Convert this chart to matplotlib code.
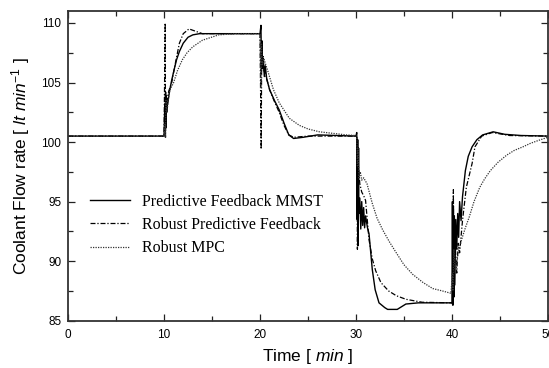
import matplotlib.pyplot as plt
from matplotlib.ticker import MultipleLocator

# 读图得到的数据 (time in min, flow in lt/min)
t_mmst = [0, 10.0, 10.08, 10.12, 10.16, 10.2, 10.24, 10.28, 10.32, 10.4, 10.5, 10.6,
          10.8, 11.0, 11.3, 11.6, 12.0, 12.5, 13.0, 13.7, 15.0, 20.0, 20.1, 20.15,
          20.2, 20.28, 20.35, 20.45, 20.55, 20.7, 21.0, 21.5, 22.0, 22.5, 23.0, 23.5,
          24.5, 26.0, 30.0, 30.08, 30.12, 30.18, 30.22, 30.27, 30.3, 30.4, 30.5, 30.6,
          30.7, 30.8, 30.9, 31.0, 31.2, 31.36, 31.7, 32.0, 32.4, 33.0, 33.3, 34.3,
          35.2, 36.5, 38.0, 40.0, 40.05, 40.1, 40.15, 40.2, 40.25, 40.3, 40.4, 40.5,
          40.6, 40.7, 40.8, 40.95, 41.1, 41.4, 41.7, 42.1, 42.6, 43.2, 44.3, 45.5,
          47.2, 50.0]
y_mmst = [100.5, 100.5, 103.2, 101.0, 104.2, 101.2, 103.8, 102.5, 103.0, 103.3, 103.9, 104.4,
          105.2, 105.9, 106.9, 107.6, 108.3, 108.8, 109.0, 109.1, 109.1, 109.1, 109.8, 106.0,
          108.5, 106.2, 107.0, 105.5, 106.4, 105.3, 104.4, 103.5, 102.7, 101.6, 100.6, 100.3,
          100.4, 100.6, 100.5, 100.8, 93.5, 100.2, 91.3, 99.5, 94.0, 95.3, 92.7, 95.0,
          93.0, 94.5, 92.8, 93.8, 92.8, 92.3, 89.3, 87.6, 86.5, 86.1, 85.95, 85.95,
          86.4, 86.5, 86.5, 86.5, 95.0, 86.3, 94.6, 87.0, 93.8, 88.0, 93.5, 91.0,
          94.0, 92.0, 95.0, 93.4, 95.4, 97.6, 98.8, 99.6, 100.2, 100.6, 100.86, 100.65,
          100.55, 100.5]

t_rpf = [0, 10.0, 10.12, 10.15, 10.2, 10.3, 10.5, 10.8, 11.1, 11.6, 12.0, 12.6,
         13.3, 14.0, 15.0, 20.0, 20.12, 20.18, 20.22, 20.3, 20.4, 20.6, 21.0, 21.5,
         22.0, 22.5, 23.0, 23.5, 25.0, 30.0, 30.1, 30.15, 30.25, 30.4, 30.6, 30.8,
         31.0, 31.36, 31.7, 32.05, 32.6, 33.4, 34.2, 35.2, 36.9, 40.0, 40.1, 40.15,
         40.2, 40.3, 40.5, 40.65, 40.8, 41.1, 41.5, 42.1, 42.4, 43.1, 44.2, 46.0,
         50.0]
y_rpf = [100.5, 100.5, 110.0, 100.4, 104.0, 103.5, 104.3, 105.0, 106.3, 108.3, 109.1, 109.5,
         109.3, 109.1, 109.1, 109.1, 99.4, 108.0, 106.5, 107.3, 106.0, 105.6, 104.4, 103.4,
         102.5, 101.4, 100.6, 100.4, 100.5, 100.5, 100.5, 91.0, 98.0, 96.5, 95.8, 95.5,
         95.1, 91.8, 90.2, 89.2, 88.2, 87.5, 87.1, 86.8, 86.55, 86.5, 86.3, 96.0,
         87.0, 92.0, 89.0, 91.5, 90.7, 93.4, 96.2, 98.2, 99.6, 100.5, 100.8, 100.55,
         100.5]

t_mpc = [0, 10.0, 10.1, 10.15, 10.2, 10.3, 10.45, 10.6, 11.0, 11.4, 11.9, 12.4,
         13.0, 14.0, 15.7, 17.4, 20.0, 20.1, 20.15, 20.25, 20.4, 20.8, 21.4, 22.0,
         23.05, 24.1, 25.0, 26.2, 29.0, 30.0, 30.1, 30.15, 30.2, 30.3, 30.45, 30.6,
         30.8, 31.15, 31.7, 32.2, 32.8, 33.5, 34.2, 35.0, 35.9, 37.0, 38.0, 39.0,
         39.9, 40.05, 40.1, 40.2, 40.35, 40.6, 41.0, 41.4, 41.8, 42.3, 42.9, 43.4,
         44.0, 44.8, 45.7, 46.5, 47.4, 48.2, 49.1, 50.0]
y_mpc = [100.5, 100.5, 101.5, 100.4, 103.5, 102.5, 103.6, 104.35, 105.0, 106.0, 106.9, 107.5,
         108.0, 108.55, 109.0, 109.1, 109.1, 104.5, 108.3, 106.5, 107.0, 106.0, 104.4, 103.3,
         102.0, 101.4, 101.1, 100.86, 100.6, 100.55, 100.2, 98.0, 99.5, 97.0, 97.5, 96.8,
         97.0, 96.5, 94.85, 93.6, 92.6, 91.6, 90.7, 89.7, 88.9, 88.2, 87.7, 87.5,
         87.3, 89.0, 87.5, 91.0, 89.0, 90.5, 91.8, 92.8, 93.7, 95.0, 96.2, 96.9,
         97.6, 98.3, 98.9, 99.3, 99.6, 99.9, 100.16, 100.4]

labels = ['Predictive Feedback MMST', 'Robust Predictive Feedback', 'Robust MPC']

plt.rcParams['font.family'] = ['Liberation Sans', 'DejaVu Sans']
plt.rcParams['mathtext.fontset'] = 'custom'
plt.rcParams['mathtext.rm'] = 'Liberation Sans'
plt.rcParams['mathtext.it'] = 'Liberation Sans:italic'

fig = plt.figure(figsize=(5.49, 3.68), dpi=100)
ax = fig.add_axes([0.124, 0.1285, 0.874, 0.8415])

ax.plot(t_mmst, y_mmst, color='black', lw=1.0, ls='-', label=labels[0])
ax.plot(t_rpf, y_rpf, color='black', lw=0.9, ls=(0, (4, 1.5, 1, 1.5)), label=labels[1])
ax.plot(t_mpc, y_mpc, color='#333333', lw=0.9, ls=(0, (1, 1)), label=labels[2])

ax.set_xlim(0, 50)
ax.set_ylim(85, 111)
ax.xaxis.set_major_locator(MultipleLocator(10))
ax.xaxis.set_minor_locator(MultipleLocator(5))
ax.yaxis.set_major_locator(MultipleLocator(5))
ax.yaxis.set_minor_locator(MultipleLocator(2.5))
ax.tick_params(which='both', direction='in', top=True, right=True, labelsize=8.5,
               color='#222222', width=0.9)
ax.tick_params(which='major', length=5)
ax.tick_params(which='minor', length=3.5)
ax.tick_params(axis='x', which='major', pad=6)
ax.tick_params(axis='y', which='major', pad=5)
for s in ax.spines.values():
    s.set_linewidth(1.3)
    s.set_color('#333333')

ax.set_xlabel('Time [ $\\it{min}$ ]', fontsize=12.5, labelpad=4)
ax.set_ylabel('Coolant Flow rate [ $\\it{lt\\ min^{-1}}$ ]', fontsize=12.5, labelpad=7)

leg = ax.legend(loc='upper left', bbox_to_anchor=(0.046, 0.41), frameon=False,
                prop={'family': 'Liberation Serif', 'size': 11.5},
                handlelength=2.5, handletextpad=0.75, labelspacing=0.45,
                borderpad=0, borderaxespad=0)

fig.savefig('out.png', dpi=100)
